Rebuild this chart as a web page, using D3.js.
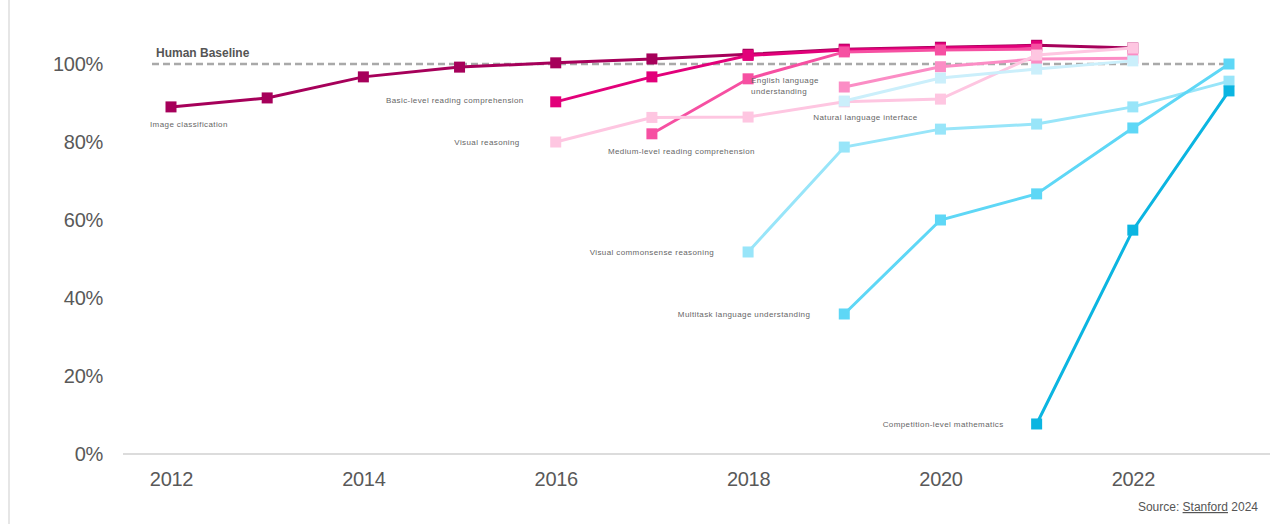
<!DOCTYPE html>
<html>
<head>
<meta charset="utf-8">
<script src="https://cdn.jsdelivr.net/npm/d3@7"></script>
<style>
  body { margin: 0; background: #fff; }
  #container { width: 1270px; height: 524px; }
</style>
</head>
<body>
<div id="container"></div>
<script>
// Chart values (percent of human baseline)
const xTicks = [2012, 2014, 2016, 2018, 2020, 2022];
const yTicks = [0, 20, 40, 60, 80, 100];

const imageClassification = [[2012, 89.0], [2013, 91.3], [2014, 96.7], [2015, 99.2], [2016, 100.3], [2017, 101.3], [2018, 102.5], [2019, 103.8], [2020, 104.3], [2021, 104.8], [2022, 104.1]];
const basicReading = [[2016, 90.3], [2017, 96.7], [2018, 102.2], [2019, 103.6], [2020, 104.1], [2021, 104.6]];
const mediumReading = [[2017, 82.1], [2018, 96.2], [2019, 103.1], [2020, 103.6], [2021, 103.8]];
const englishUnderstanding = [[2019, 94.1], [2020, 99.3], [2021, 101.3], [2022, 101.5]];
const visualReasoning = [[2016, 80.0], [2017, 86.3], [2018, 86.4], [2019, 90.3], [2020, 91.0], [2021, 102.3], [2022, 104.1]];
const naturalLanguage = [[2019, 90.5], [2020, 96.4], [2021, 98.7], [2022, 100.8]];
const visualCommonsense = [[2018, 51.8], [2019, 78.7], [2020, 83.3], [2021, 84.6], [2022, 89.0], [2023, 95.6]];
const multitaskLanguage = [[2019, 35.9], [2020, 60.0], [2021, 66.7], [2022, 83.6], [2023, 100.0]];
const competitionMath = [[2021, 7.7], [2022, 57.4], [2023, 93.1]];

const series = [
    { name: "Image classification", values: imageClassification, color: "#a6005a" },
    { name: "Basic-level reading comprehension", values: basicReading, color: "#e2007a" },
    { name: "Medium-level reading comprehension", values: mediumReading, color: "#f650a2" },
    { name: "English language understanding", values: englishUnderstanding, color: "#fb8dc5" },
    { name: "Visual reasoning", values: visualReasoning, color: "#fec6e1" },
    { name: "Natural language interface", values: naturalLanguage, color: "#cbeffb" },
    { name: "Visual commonsense reasoning", values: visualCommonsense, color: "#98e5f9" },
    { name: "Multitask language understanding", values: multitaskLanguage, color: "#5ed7f6" },
    { name: "Competition-level mathematics", values: competitionMath, color: "#0bb5e1" }
];

// label placement relative to the first point of each series
const labels = [
    { text: ["Image classification"], year: 2012, value: 89.0, dx: -21, dy: 20, anchor: "start" },
    { text: ["Basic-level reading comprehension"], year: 2016, value: 90.3, dx: -32, dy: 1, anchor: "end" },
    { text: ["Visual reasoning"], year: 2016, value: 80.0, dx: -36, dy: 3, anchor: "end" },
    { text: ["Medium-level reading comprehension"], year: 2017, value: 82.1, dx: -44, dy: 20, anchor: "start" },
    { text: ["English language", "understanding"], year: 2018, value: 96.2, dx: 3, dy: 4, anchor: "start" },
    { text: ["Natural language interface"], year: 2019, value: 90.5, dx: -31, dy: 19, anchor: "start" },
    { text: ["Visual commonsense reasoning"], year: 2018, value: 51.8, dx: -34, dy: 3, anchor: "end" },
    { text: ["Multitask language understanding"], year: 2019, value: 35.9, dx: -34, dy: 3, anchor: "end" },
    { text: ["Competition-level mathematics"], year: 2021, value: 7.7, dx: -33, dy: 3, anchor: "end" }
];

const width = 1270;
const height = 524;

const svg = d3.select("#container").append("svg")
    .attr("width", width)
    .attr("height", height)
    .attr("style", "font-family: 'Liberation Sans', Arial, sans-serif;");

const x = d3.scaleLinear().domain([2012, 2023]).range([171, 1229]);
const y = d3.scaleLinear().domain([0, 100]).range([454, 64]);

// faint left border
svg.append("line")
    .attr("x1", 9).attr("x2", 9).attr("y1", 0).attr("y2", height)
    .attr("stroke", "#e6e6e6").attr("stroke-width", 2);

// baseline
svg.append("line")
    .attr("x1", 123).attr("x2", width)
    .attr("y1", y(0)).attr("y2", y(0))
    .attr("stroke", "#dcdcdc").attr("stroke-width", 2);

// y axis
const yAxis = svg.append("g")
    .attr("transform", "translate(105,0)")
    .call(d3.axisLeft(y).tickValues(yTicks).tickSize(0).tickPadding(2).tickFormat(d => d + "%"));
yAxis.select(".domain").remove();
yAxis.selectAll("text").attr("font-size", 20).attr("letter-spacing", -0.3)
    .attr("fill", "#595959").attr("font-family", "'Liberation Sans', Arial, sans-serif");

// x axis
const xAxis = svg.append("g")
    .attr("transform", `translate(0,${y(0)})`)
    .call(d3.axisBottom(x).tickValues(xTicks).tickSize(0).tickPadding(18).tickFormat(d3.format("d")));
xAxis.select(".domain").remove();
xAxis.selectAll("text").attr("font-size", 20).attr("letter-spacing", -0.3)
    .attr("fill", "#595959").attr("font-family", "'Liberation Sans', Arial, sans-serif");

// human baseline
svg.append("line")
    .attr("x1", 152).attr("x2", x(2023))
    .attr("y1", y(100)).attr("y2", y(100))
    .attr("stroke", "#a9a9a9").attr("stroke-width", 2.5)
    .attr("stroke-dasharray", "7,4");

svg.append("text")
    .attr("x", 156).attr("y", y(100) - 7)
    .attr("font-size", 12).attr("font-weight", "bold").attr("fill", "#555")
    .text("Human Baseline");

// lines and square markers
const line = d3.line().x(d => x(d[0])).y(d => y(d[1]));
const sq = 11;

series.forEach(s => {
    const g = svg.append("g");
    g.append("path")
        .datum(s.values)
        .attr("d", line)
        .attr("fill", "none")
        .attr("stroke", s.color)
        .attr("stroke-width", 3);
    g.selectAll("rect")
        .data(s.values)
        .join("rect")
        .attr("x", d => x(d[0]) - sq / 2)
        .attr("y", d => y(d[1]) - sq / 2)
        .attr("width", sq)
        .attr("height", sq)
        .attr("fill", s.color);
});

// series labels
labels.forEach(l => {
    const t = svg.append("text")
        .attr("x", x(l.year) + l.dx)
        .attr("y", y(l.value) + l.dy)
        .attr("text-anchor", l.anchor)
        .attr("font-size", 8)
        .attr("letter-spacing", 0.4)
        .attr("fill", "#666");
    l.text.forEach((line, i) => {
        t.append("tspan")
            .attr("x", x(l.year) + l.dx)
            .attr("dy", i === 0 ? 0 : 11)
            .text(line);
    });
});

// source note
const src = svg.append("text")
    .attr("x", 1258).attr("y", 511)
    .attr("text-anchor", "end")
    .attr("font-size", 12)
    .attr("fill", "#555");
src.append("tspan").text("Source: ");
src.append("tspan").attr("text-decoration", "underline").text("Stanford");
src.append("tspan").text(" 2024");
</script>
</body>
</html>
